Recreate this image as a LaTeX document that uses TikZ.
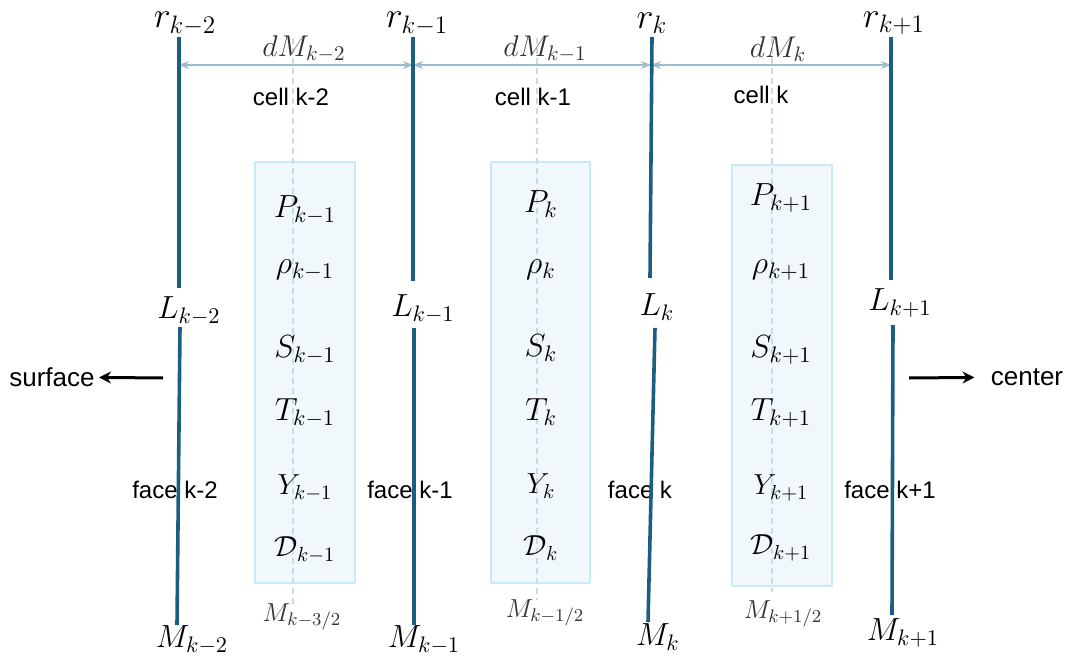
\RequirePackage{fix-cm}
\documentclass[tikz,border=0pt]{standalone}
\usepackage{fontspec}
\newfontfamily\labelfont{Liberation Sans}
\usetikzlibrary{arrows.meta, positioning, calc}

\definecolor{faceblue}{HTML}{1B5E82}
\definecolor{dmblue}{HTML}{9CBDCC}
\definecolor{midblue}{HTML}{C6DCE6}
\definecolor{cellfill}{HTML}{F0F8FC}
\definecolor{celledge}{HTML}{C8EAF8}

\tikzset{
    txtlab/.style={font=\labelfont\fontsize{12}{14}\selectfont, inner sep=1pt},
    dirlab/.style={font=\labelfont\fontsize{13}{15}\selectfont, inner sep=2pt},
    biglab/.style={font=\fontsize{16}{18}\selectfont, inner sep=1pt},
    rlab/.style={font=\fontsize{18}{20}\selectfont, inner sep=0pt},
    smallvar/.style={font=\fontsize{14.5}{16}\selectfont, inner sep=1pt},
    dmlab/.style={font=\fontsize{15}{17}\selectfont, text=black!80, inner sep=0pt},
    halflab/.style={font=\fontsize{13}{15}\selectfont, text=black!80, inner sep=1pt},
    faceline/.style={faceblue, line width=1.8pt},
    widthline/.style={dmblue, line width=0.9pt, {Stealth[length=5pt,width=4pt]}-{Stealth[length=5pt,width=4pt]}},
    midline/.style={midblue, line width=0.7pt, dash pattern=on 3pt off 2pt},
    cellbox/.style={draw=celledge, fill=cellfill, line width=0.9pt},
    dirarrow/.style={black, line width=1.5pt, -{Stealth[length=6pt,width=6pt]}}
}

\begin{document}
\begin{tikzpicture}[x=0.5pt, y=-0.5pt, line join=round]
    \useasboundingbox (0,0) rectangle (1071,663);

    % 单元格
    \draw[cellbox] (255,162) rectangle (355,583);
    \draw[cellbox] (491,162) rectangle (590,583);
    \draw[cellbox] (732,165) rectangle (832,586);

    \draw[midline] (293,38) -- (293,605);
    \draw[midline] (537,38) -- (537,600);
    \draw[midline] (772,38) -- (772,592);

    % 单元格变量
    \node[biglab] (Pa) at (305,210) {$P_{k-1}$};
    \node[biglab] (rhoa) at (305,270) {$\rho_{k-1}$};
    \node[biglab] (Sa) at (305,350) {$S_{k-1}$};
    \node[biglab] (Ta) at (305,413) {$T_{k-1}$};
    \node[smallvar] (Ya) at (305,488) {$Y_{k-1}$};
    \node[smallvar] (Da) at (305,550) {$\mathcal{D}_{k-1}$};

    \node[biglab] (Pb) at (541,204) {$P_{k}$};
    \node[biglab] (rhob) at (541,270) {$\rho_{k}$};
    \node[biglab] (Sb) at (541,348) {$S_{k}$};
    \node[biglab] (Tb) at (541,412) {$T_{k}$};
    \node[smallvar] (Yb) at (541,486) {$Y_{k}$};
    \node[smallvar] (Db) at (541,548) {$\mathcal{D}_{k}$};

    \node[biglab] (Pc) at (781,198) {$P_{k+1}$};
    \node[biglab] (rhoc) at (781,270) {$\rho_{k+1}$};
    \node[biglab] (Sc) at (781,350) {$S_{k+1}$};
    \node[biglab] (Tc) at (781,413) {$T_{k+1}$};
    \node[smallvar] (Yc) at (781,488) {$Y_{k+1}$};
    \node[smallvar] (Dc) at (781,548) {$\mathcal{D}_{k+1}$};

    \node[halflab] (Ma) at (302,617) {$M_{k-3/2}$};
    \node[halflab] (Mb) at (545,613) {$M_{k-1/2}$};
    \node[halflab] (Mc) at (783,614) {$M_{k+1/2}$};

    % 质量宽度
    \coordinate (w0) at (179,65);
    \coordinate (w1) at (413,65);
    \coordinate (w2) at (651,65);
    \coordinate (w3) at (891,65);
    \draw[widthline] (w0) -- (w1);
    \draw[widthline] (w1) -- (w2);
    \draw[widthline] (w2) -- (w3);
    \node[dmlab] (dMa) at (304,49) {$dM_{k-2}$};
    \node[dmlab] (dMb) at (545,49) {$dM_{k-1}$};
    \node[dmlab] (dMc) at (778,49) {$dM_{k}$};

    \node[txtlab] (cella) at (291,97) {cell k-2};
    \node[txtlab] (cellb) at (533,97) {cell k-1};
    \node[txtlab] (cellc) at (761,95) {cell k};

    % 界面
    \node[txtlab] (facea) at (175,490) {face k-2};
    \node[txtlab] (faceb) at (410,490) {face k-1};
    \node[txtlab] (facec) at (640,490) {face k};
    \node[txtlab] (faced) at (890,490) {face k+1};

    \coordinate (a1) at (179,37);  \coordinate (a2) at (179,288);
    \coordinate (a3) at (180,327); \coordinate (a4) at (177,625);
    \coordinate (b1) at (413,37);  \coordinate (b2) at (413,281);
    \coordinate (b3) at (414,328); \coordinate (b4) at (414,625);
    \coordinate (c1) at (652,37);  \coordinate (c2) at (650,278);
    \coordinate (c3) at (655,328); \coordinate (c4) at (648,622);
    \coordinate (d1) at (891,37);  \coordinate (d2) at (891,280);
    \coordinate (d3) at (893,325); \coordinate (d4) at (892,615);
    \draw[faceline] (a1) -- (a2);
    \draw[faceline] (a3) -- (a4);
    \draw[faceline] (b1) -- (b2);
    \draw[faceline] (b3) -- (b4);
    \draw[faceline] (c1) -- (c2);
    \draw[faceline] (c3) -- (c4);
    \draw[faceline] (d1) -- (d2);
    \draw[faceline] (d3) -- (d4);

    \node[rlab] (ra) at (185,24) {$r_{k-2}$};
    \node[rlab] (rb) at (417,24) {$r_{k-1}$};
    \node[rlab] (rc) at (652,23) {$r_{k}$};
    \node[rlab] (rd) at (894,23) {$r_{k+1}$};

    \node[biglab] (La) at (189,311) {$L_{k-2}$};
    \node[biglab] (Lb) at (423,309) {$L_{k-1}$};
    \node[biglab] (Lc) at (657,307) {$L_{k}$};
    \node[biglab] (Ld) at (900,303) {$L_{k+1}$};

    \node[biglab] (MMa) at (192,640) {$M_{k-2}$};
    \node[biglab] (MMb) at (424,640) {$M_{k-1}$};
    \node[biglab] (MMc) at (658,637) {$M_{k}$};
    \node[biglab] (MMd) at (903,633) {$M_{k+1}$};

    % 方向
    \node[dirlab] (surface) at (52,377) {surface};
    \node[dirlab] (center) at (1027,377) {center};
    \coordinate (sfstart) at (163,378);
    \coordinate (ctstart) at (909,378);
    \draw[dirarrow] (sfstart) -- (surface);
    \draw[dirarrow, shorten >=6pt] (ctstart) -- (center);
\end{tikzpicture}
\end{document}
